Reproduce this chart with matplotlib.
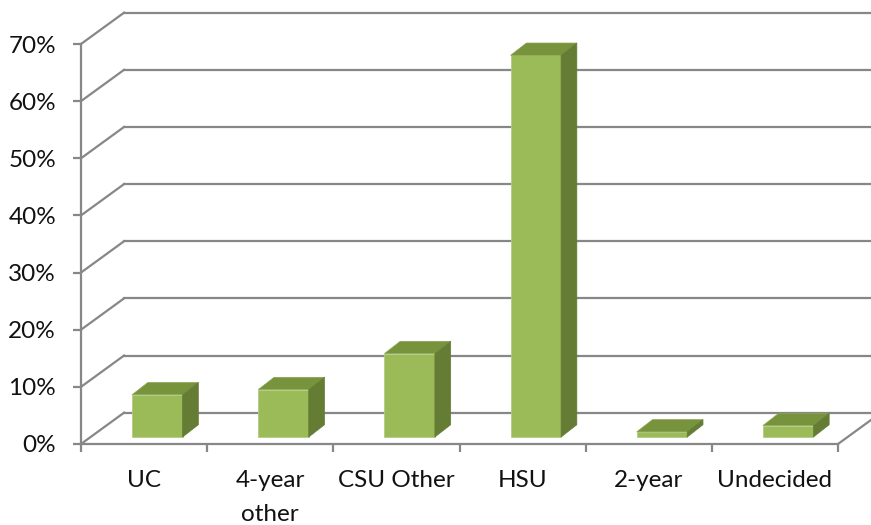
import matplotlib.pyplot as plt
from matplotlib.patches import Polygon

categories = ['UC', '4-year\nother', 'CSU Other', 'HSU', '2-year', 'Undecided']
shares = [7.4, 8.3, 14.6, 66.8, 0.9, 2.0]
y_ticks = [0, 10, 20, 30, 40, 50, 60, 70]

grid_col = '#878787'
front_col = '#9BBB59'
top_col = '#77933C'
side_col = '#647C34'

plt.rcParams['font.family'] = ['Lato', 'DejaVu Sans']

fig = plt.figure(figsize=(8.71, 5.25), dpi=100)
ax = fig.add_axes([81 / 871, 81 / 525, 757 / 871, 400 / 525])
ax.set_xlim(0, 6)
ax.set_ylim(0, 70)

# fake 3d depth of the chart box and of the bars (data units)
DX, DY = 0.341, 5.48
W = 0.40
XS = 0.105
BASE = 1.22
BDX, BDY = 0.125, 2.15

# back wall gridlines + left wall diagonals
for v in y_ticks:
    ax.plot([DX, 6 + DX + 0.2], [v + DY, v + DY], color=grid_col, lw=1.6,
            clip_on=False, zorder=1)
    ax.plot([0, DX], [v, v + DY], color=grid_col, lw=1.6, clip_on=False, zorder=1)
ax.plot([6, 6 + DX], [0, DY], color=grid_col, lw=1.6, clip_on=False, zorder=1)

# bars
xs = [i + 0.5 - W / 2 + XS for i in range(len(shares))]
ax.bar(xs, shares, width=W, bottom=BASE, align='edge', color=front_col,
       edgecolor='#B3CC85', lw=0.6, zorder=3)
for x0, v in zip(xs, shares):
    top = v + BASE
    ax.add_patch(Polygon([(x0, top), (x0 + W, top), (x0 + W + BDX, top + BDY),
                          (x0 + BDX, top + BDY)], closed=True, fc=top_col,
                         ec='#8AA653', lw=0.5, zorder=3, clip_on=False))
    ax.add_patch(Polygon([(x0 + W, BASE), (x0 + W + BDX, BASE + BDY),
                          (x0 + W + BDX, top + BDY), (x0 + W, top)], closed=True,
                         fc=side_col, ec=side_col, lw=0.5, zorder=3, clip_on=False))

# axes
for s in ['top', 'right']:
    ax.spines[s].set_visible(False)
for s in ['left', 'bottom']:
    ax.spines[s].set_color(grid_col)
    ax.spines[s].set_linewidth(1.6)
    ax.spines[s].set_zorder(4)

ax.set_yticks(y_ticks)
ax.set_yticklabels([f'{v}%' for v in y_ticks])
ax.tick_params(axis='y', length=6, width=1.6, color=grid_col, pad=12,
               labelsize=17.5, labelcolor='#111111')

ax.set_xticks(range(7))
ax.set_xticklabels([])
ax.tick_params(axis='x', which='major', length=6, width=1.6, color=grid_col)
ax.set_xticks([i + 0.5 for i in range(len(categories))], minor=True)
ax.set_xticklabels(categories, minor=True, linespacing=1.75)
ax.tick_params(axis='x', which='minor', length=0, pad=19, labelsize=17.5,
               labelcolor='#111111')

fig.savefig('out.png', dpi=100)
